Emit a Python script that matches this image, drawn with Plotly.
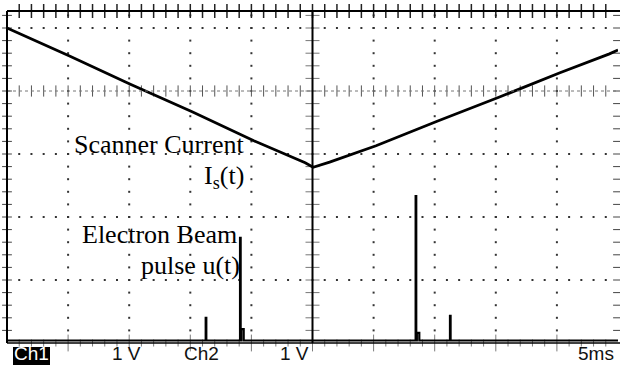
import numpy as np
import plotly.graph_objects as go

# ---------------- data (time in ms, 5 ms/div; amplitude in divisions, 1 V/div) -------------
ch1_t = [0.0, 5.07, 10.05, 15.15, 20.2, 24.4, 25.05, 26.4, 30.2, 35.2, 40.25, 45.25, 49.3, 50.0]
ch1_v = [5.0, 4.56, 4.11, 3.67, 3.21, 2.86, 2.79, 2.87, 3.13, 3.52, 3.90, 4.29, 4.59, 4.65]

pulse_t = [16.26, 19.07, 33.44, 36.25]
pulse_h = [0.40, 1.67, 2.33, 0.43]
pulse_tail = [0.0, 0.22, 0.16, 0.05]
ch2_base = 0.04

bottom_labels = ["1 V", "Ch2", "1 V", "5ms"]

# ---------------- geometry helpers ----------------
PX_X = 61.1          # px per division (x)
PX_Y = 63.0          # px per division (y)
YTOP = 332 / PX_Y

fig = go.Figure()

dot = dict(symbol="square", size=2, color="#333", line=dict(width=0))

# dotted columns
cols = [5, 10, 15, 20, 30, 35, 40, 45]
ky = np.round(np.arange(1, 27) * 0.2, 3)
gx, gy = [], []
for c in cols:
    gx += [c] * len(ky)
    gy += list(ky)
# dotted rows
kx = np.arange(1, 50)
for r in [1, 2, 3, 5]:
    gx += list(kx)
    gy += [r] * len(kx)
fig.add_trace(go.Scatter(x=gx, y=gy, mode="markers", marker=dot, hoverinfo="skip", cliponaxis=False))


def tick(sym, size, col="#444", w=1):
    return dict(symbol=sym, size=size, color=col, line=dict(width=w, color=col))


# centre horizontal axis ticks
fig.add_trace(go.Scatter(x=list(kx), y=[4] * len(kx), mode="markers", marker=tick("line-ns", 8, "#555"),
                         hoverinfo="skip", cliponaxis=False))
# centre vertical axis ticks
fig.add_trace(go.Scatter(x=[25] * len(ky), y=list(ky), mode="markers", marker=tick("line-ew", 10, "#777"),
                         hoverinfo="skip", cliponaxis=False))
# left border ticks
fig.add_trace(go.Scatter(x=[0] * len(ky), y=list(ky), mode="markers", marker=tick("line-ew", 7, "#444"),
                         hoverinfo="skip", cliponaxis=False))
# right edge ticks
fig.add_trace(go.Scatter(x=[50] * len(ky), y=list(ky), mode="markers", marker=tick("line-ew", 7, "#444"),
                         hoverinfo="skip", cliponaxis=False))
# top border ticks
fig.add_trace(go.Scatter(x=list(kx), y=[YTOP] * len(kx), mode="markers", marker=tick("line-ns", 10, "#222", 1.5),
                         hoverinfo="skip", cliponaxis=False))
# bottom border ticks
fig.add_trace(go.Scatter(x=list(kx), y=[0] * len(kx),
                         mode="markers",
                         marker=tick("line-ns", [12 if k % 5 == 0 else 5 for k in kx], "#444"),
                         hoverinfo="skip", cliponaxis=False))

# ---------------- channel 2 (electron beam pulses) ----------------
c2x, c2y = [0.0], [ch2_base]
for t, h, tail in zip(pulse_t, pulse_h, pulse_tail):
    c2x += [t, t, t + 0.05, t + 0.05]
    c2y += [ch2_base, h, h, ch2_base]
    if tail > 0:
        c2x += [t + 0.1, t + 0.1, t + 0.3, t + 0.3]
        c2y += [ch2_base, tail, tail, ch2_base]
c2x += [50.0]
c2y += [ch2_base]
fig.add_trace(go.Scatter(x=c2x, y=c2y, mode="lines", line=dict(color="black", width=2.2),
                         hoverinfo="skip"))

# ---------------- channel 1 (scanner current) ----------------
fig.add_trace(go.Scatter(x=ch1_t, y=ch1_v, mode="lines", line=dict(color="black", width=2.8),
                         hoverinfo="skip"))

# ---------------- graticule lines ----------------
shapes = [
    dict(type="line", xref="x", yref="y", x0=0, x1=50, y0=4, y1=4,
         line=dict(color="#777", width=1, dash="dot")),
    dict(type="line", xref="x", yref="y", x0=25, x1=25, y0=0, y1=YTOP,
         line=dict(color="black", width=2)),
    dict(type="line", xref="paper", yref="paper", x0=0, x1=0, y0=0, y1=1,
         line=dict(color="black", width=2)),
    dict(type="line", xref="paper", yref="paper", x0=0, x1=1.01, y0=1, y1=1,
         line=dict(color="black", width=2)),
    dict(type="line", xref="paper", yref="paper", x0=0, x1=1.01, y0=0, y1=0,
         line=dict(color="black", width=1.5)),
    # Ch1 label box
    dict(type="rect", xref="paper", yref="paper",
         x0=(13 - 7) / 611, x1=(50 - 7) / 611, y0=(343 - 347) / 332, y1=(343 - 366) / 332,
         line=dict(width=0), fillcolor="black"),
]

serif = dict(family="Liberation Serif, Times New Roman, serif", size=26, color="black")
sans = dict(family="Liberation Sans, Arial, sans-serif", size=19, color="#111")

ann = [
    dict(text="Scanner Current", x=(245 - 7) / 611, y=(343 - 144) / 332, xanchor="right", yanchor="middle", font=serif),
    dict(text="I<sub>s</sub>(t)", x=(245 - 7) / 611, y=(343 - 177) / 332, xanchor="right", yanchor="middle", font=serif),
    dict(text="Electron Beam", x=(238 - 7) / 611, y=(343 - 235) / 332, xanchor="right", yanchor="middle", font=serif),
    dict(text="pulse u(t)", x=(241 - 7) / 611, y=(343 - 265) / 332, xanchor="right", yanchor="middle", font=serif),
    dict(text="Ch1", x=(31 - 7) / 611, y=(343 - 353) / 332, xanchor="center", yanchor="middle",
         font=dict(family=sans["family"], size=19, color="white")),
]
for lab, cx in zip(bottom_labels, [126, 201, 294, 596]):
    ann.append(dict(text=lab, x=(cx - 7) / 611, y=(343 - 353) / 332, xanchor="center", yanchor="middle", font=sans))
for a in ann:
    a.update(xref="paper", yref="paper", showarrow=False, borderpad=0)

fig.update_layout(
    width=620, height=365, autosize=False,
    margin=dict(l=7, r=2, t=11, b=22, pad=0),
    paper_bgcolor="white", plot_bgcolor="white",
    showlegend=False,
    shapes=shapes, annotations=ann,
    xaxis=dict(range=[0, 50], visible=False, fixedrange=True),
    yaxis=dict(range=[0, YTOP], visible=False, fixedrange=True),
)

fig.write_html("out.html", config={"displayModeBar": False},
               post_script="document.body.style.margin='0';document.body.style.padding='0';"
                           "document.documentElement.style.overflow='hidden';")
